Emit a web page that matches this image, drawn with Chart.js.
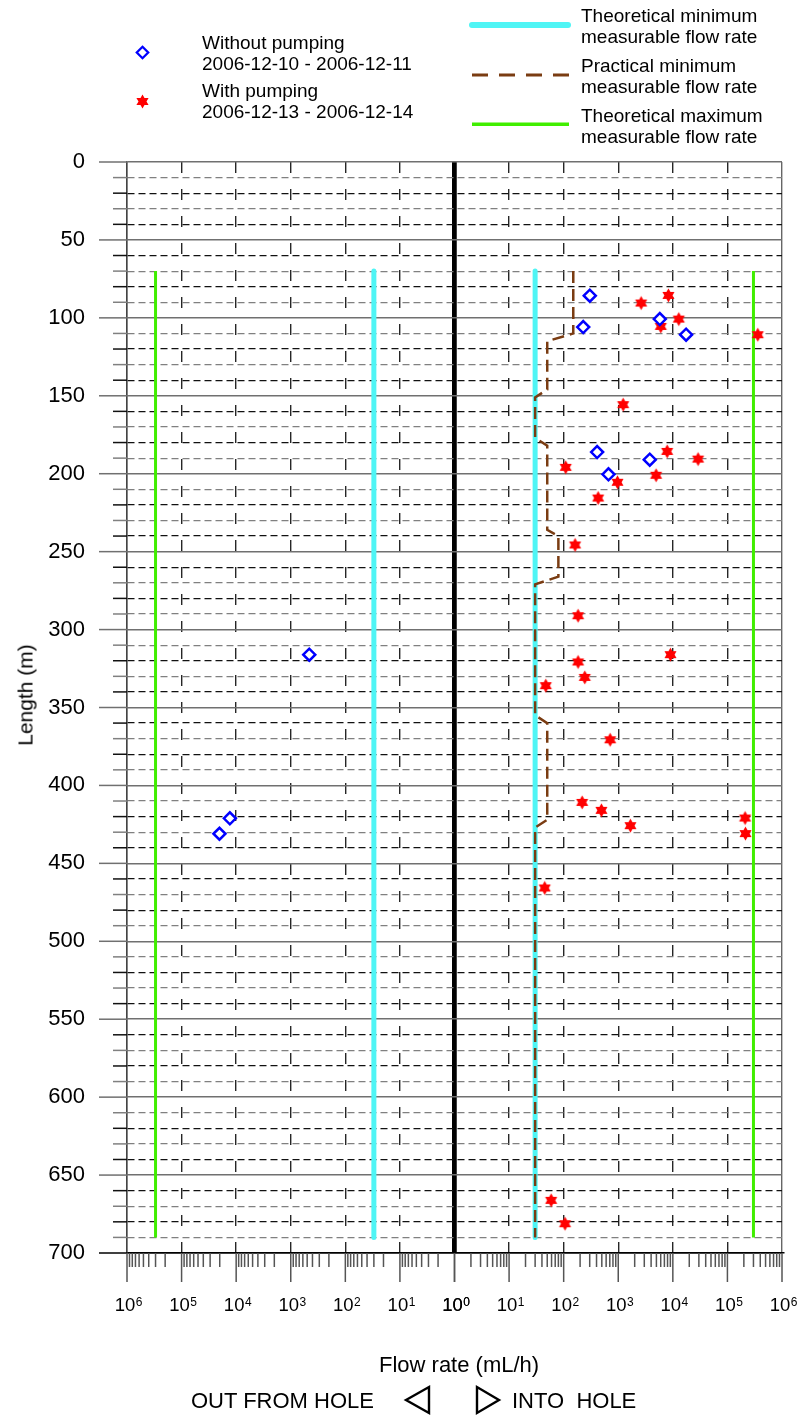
<!DOCTYPE html>
<html>
<head>
<meta charset="utf-8">
<title>Flow rate along the hole</title>
<script src="https://cdn.jsdelivr.net/npm/chart.js@4.4.1/dist/chart.umd.min.js"></script>
<style>
  html, body { margin: 0; padding: 0; background: #fff; }
  #page { position: relative; width: 799px; height: 1416px; overflow: hidden;
          font-family: "Liberation Sans", Arial, sans-serif; color: #000; }
  #chart { position: absolute; left: 0; top: 0; }
  .leg { position: absolute; white-space: pre; font-size: 19px; line-height: 21px; }
  .lbl { position: absolute; white-space: pre; line-height: 1; }
  .mark { position: absolute; overflow: visible; }
  .xt { top: 1295.5px; font-size: 18.5px; transform: translateX(-50%); margin-left: -2px; }
  .xt .ex { position: absolute; left: 100%; top: 0; font-size: 12px; line-height: 1; padding-left: 0.5px; }
</style>
</head>
<body>
<div id="page">
  <canvas id="chart" width="799" height="1416"></canvas>

  <!-- legend: measurements -->
  <svg class="mark" style="left:135px;top:44.5px" width="15" height="15">
    <polygon points="7.5,1.8 13.2,7.5 7.5,13.2 1.8,7.5" fill="#fff" stroke="#0000ff" stroke-width="2.3"/>
  </svg>
  <div class="leg" style="left:202px;top:32px">Without pumping
2006-12-10 - 2006-12-11</div>
  <svg class="mark" style="left:135px;top:93.5px" width="15" height="15">
    <polygon points="7.5,0.5 9.5,4 13.6,4 11.5,7.5 13.6,11 9.5,11 7.5,14.5 5.5,11 1.4,11 3.5,7.5 1.4,4 5.5,4" fill="#ff0000"/>
  </svg>
  <div class="leg" style="left:202px;top:80px">With pumping
2006-12-13 - 2006-12-14</div>

  <!-- legend: limits -->
  <svg class="mark" style="left:468px;top:18px" width="106" height="14">
    <line x1="4" y1="7" x2="100" y2="7" stroke="#4ff5f5" stroke-width="6" stroke-linecap="round"/>
  </svg>
  <div class="leg" style="left:581px;top:4.5px">Theoretical minimum
measurable flow rate</div>
  <svg class="mark" style="left:468px;top:68px" width="106" height="14">
    <line x1="4" y1="7" x2="101" y2="7" stroke="#7a3c12" stroke-width="2.8" stroke-dasharray="16 11"/>
  </svg>
  <div class="leg" style="left:581px;top:54.5px">Practical minimum
measurable flow rate</div>
  <svg class="mark" style="left:468px;top:117px" width="106" height="14">
    <line x1="4" y1="7.3" x2="101" y2="7.3" stroke="#40ee00" stroke-width="3.5"/>
  </svg>
  <div class="leg" style="left:581px;top:104.5px">Theoretical maximum
measurable flow rate</div>

  <!-- axis titles -->
  <div class="lbl" style="left:25px;top:695px;font-size:21px;transform:translate(-50%,-50%) rotate(-90deg)">Length (m)</div>
  <div class="lbl" style="left:379px;top:1354px;font-size:22px">Flow rate (mL/h)</div>
  <div class="lbl" style="left:191px;top:1390px;font-size:22px">OUT FROM HOLE</div>
  <svg class="mark" style="left:400px;top:1382px" width="36" height="36">
    <polygon points="6,18 29,5 29,31" fill="none" stroke="#000" stroke-width="2.4" stroke-linejoin="miter"/>
  </svg>
  <svg class="mark" style="left:470px;top:1382px" width="36" height="36">
    <polygon points="29,18 7,5 7,31" fill="none" stroke="#000" stroke-width="2.4" stroke-linejoin="miter"/>
  </svg>
  <div class="lbl" style="left:512px;top:1390px;font-size:22px">INTO  HOLE</div>
</div>

<script>
// length along hole (m) and flow rate (mL/h)
// without pumping, 2006-12-10 - 2006-12-11
const depthWithoutIn = [85.8, 100.8, 105.9, 110.8, 186.1, 191.0, 200.4];
const flowWithoutIn  = [301, 5770, 228, 17500, 410, 3780, 662];
const depthWithoutOut = [316.1, 421.1, 431.0];
const flowWithoutOut  = [458, 13050, 20230];

// with pumping, 2006-12-13 - 2006-12-14
const depthWithIn = [85.6, 90.5, 100.8, 105.5, 110.8, 155.7, 185.7, 190.6, 195.9, 201.0,
                     205.5, 215.6, 245.7, 291.1, 316.1, 320.8, 330.7, 336.0, 370.7, 410.9,
                     416.0, 420.9, 425.8, 430.9, 465.8, 666.2, 681.2];
const flowWithIn  = [8300, 2625, 12850, 6010, 360000, 1230, 7860, 29000, 109, 4940,
                     967, 428, 162, 184, 9040, 184, 244, 47, 710, 218,
                     492, 211000, 1672, 214000, 45, 59, 106];

// measurement limits
const limitDepth = [70, 690];
const theoreticalMin = 30;
const theoreticalMax = 300000;
const practicalDepth = [70, 110, 115, 146, 151, 177, 182, 236, 240, 266, 271, 355, 360, 422, 427, 690];
const practicalFlow  = [150, 150, 50, 50, 30, 30, 50, 50, 80, 80, 30, 30, 50, 50, 30, 30];

// axes
const depthLabels = [0, 50, 100, 150, 200, 250, 300, 350, 400, 450, 500, 550, 600, 650, 700];
const flowDecades = [1, 10, 100, 1000, 10000, 100000, 1000000];
const decadeExp   = ['0', '1', '2', '3', '4', '5', '6'];
const minorSteps  = [2, 3, 4, 5, 6, 7, 8, 9];

const FONT = '"Liberation Sans", Arial, sans-serif';
const decadeSet = new Set(flowDecades);
const pts = (xs, ys) => xs.map((x, i) => ({ x: x, y: ys[i] }));

// filled six pointed star for the pumping points
function makeStar(r, color) {
  const c = document.createElement('canvas');
  c.width = c.height = 2 * r + 3;
  const g = c.getContext('2d');
  g.translate(c.width / 2, c.height / 2);
  g.fillStyle = color;
  g.beginPath();
  for (let i = 0; i < 12; i++) {
    const a = -Math.PI / 2 + i * Math.PI / 6;
    const rr = i % 2 === 0 ? r : r * 0.58;
    g.lineTo(rr * Math.cos(a), rr * Math.sin(a));
  }
  g.closePath();
  g.fill();
  return c;
}
const star = makeStar(7, '#ff0000');

// grid styling
const tickVal = c => (c && c.tick ? c.tick.value : null);
const xGridColor = c => {
  const v = tickVal(c);
  if (v === 1) return '#000';
  if (v === 1000000) return '#666';
  return decadeSet.has(v) ? '#262626' : 'rgba(0,0,0,0)';
};
const xGridWidth = c => (tickVal(c) === 1 ? 4.5 : 1.4);
const xGridDash = c => {
  const v = tickVal(c);
  return (decadeSet.has(v) && v !== 1 && v !== 1000000) ? [11, 16] : [];
};
const yLineColor = v => {
  if (v === 700) return '#000';
  if (v % 50 === 0) return '#707070';
  return v % 20 === 0 ? '#111' : '#808080';
};
const yGridColor = c => yLineColor(tickVal(c) || 0);
const yGridWidth = c => ((tickVal(c) || 0) % 50 === 0 ? 1.5 : 1.2);
const yGridDash = c => {
  const v = tickVal(c);
  return (v !== null && v % 50 !== 0) ? [7, 4] : [];
};

// tick marks outside the plot frame
const outerTicks = {
  id: 'outerTicks',
  afterDraw(chart) {
    const { ctx, chartArea: area, scales } = chart;
    const seg = (x1, y1, x2, y2) => { ctx.beginPath(); ctx.moveTo(x1, y1); ctx.lineTo(x2, y2); ctx.stroke(); };
    ctx.save();
    ctx.lineWidth = 1.5;
    scales.y.ticks.forEach(t => {
      const py = scales.y.getPixelForValue(t.value);
      const major = t.value % 50 === 0;
      ctx.strokeStyle = yLineColor(t.value);
      seg(area.left - (major ? 28 : 14), py, area.left, py);
    });
    ctx.strokeStyle = '#555';
    ['xOut', 'xIn'].forEach(id => {
      const sc = scales[id];
      flowDecades.forEach((d, i) => {
        const px = sc.getPixelForValue(d);
        seg(px, area.bottom, px, area.bottom + 29);
        if (i < flowDecades.length - 1) {
          minorSteps.forEach(m => {
            const pm = sc.getPixelForValue(d * m);
            seg(pm, area.bottom, pm, area.bottom + 14);
          });
        }
      });
    });
    ctx.restore();
  }
};

const flowAxis = reverse => ({
  type: 'logarithmic', axis: 'x', position: 'bottom',
  stack: 'flow', stackWeight: 1,
  reverse: reverse, min: 1, max: 1000000,
  ticks: { display: false, autoSkip: false },
  grid: { color: xGridColor, lineWidth: xGridWidth, drawTicks: false },
  border: { display: true, color: '#000', width: 1.5, dash: xGridDash },
  afterFit: s => { s.height = 60; }
});

const diamond = {
  pointStyle: 'rectRot', pointRadius: 6, borderWidth: 2.5, pointBorderWidth: 2.5,
  borderColor: '#0000ff', pointBorderColor: '#0000ff', backgroundColor: '#fff', pointBackgroundColor: '#fff'
};

const chart = new Chart(document.getElementById('chart'), {
  type: 'scatter',
  data: {
    datasets: [
      Object.assign({ label: 'Without pumping', xAxisID: 'xIn', data: pts(flowWithoutIn, depthWithoutIn) }, diamond),
      Object.assign({ label: 'Without pumping (out)', xAxisID: 'xOut', data: pts(flowWithoutOut, depthWithoutOut) }, diamond),
      { label: 'With pumping', xAxisID: 'xIn', data: pts(flowWithIn, depthWithIn),
        pointStyle: star, pointRadius: 7 },
      { label: 'Practical minimum measurable flow rate', xAxisID: 'xIn',
        data: pts(practicalFlow, practicalDepth), showLine: true, pointRadius: 0,
        borderColor: '#7a3c12', borderWidth: 2.5, borderDash: [12, 6] },
      { label: 'Theoretical minimum measurable flow rate', xAxisID: 'xIn',
        data: pts([theoreticalMin, theoreticalMin], limitDepth), showLine: true, pointRadius: 0,
        borderColor: '#4ff5f5', borderWidth: 5, borderCapStyle: 'round' },
      { label: 'Theoretical minimum (out)', xAxisID: 'xOut',
        data: pts([theoreticalMin, theoreticalMin], limitDepth), showLine: true, pointRadius: 0,
        borderColor: '#4ff5f5', borderWidth: 5, borderCapStyle: 'round' },
      { label: 'Theoretical maximum measurable flow rate', xAxisID: 'xIn',
        data: pts([theoreticalMax, theoreticalMax], limitDepth), showLine: true, pointRadius: 0,
        borderColor: '#40ee00', borderWidth: 3 },
      { label: 'Theoretical maximum (out)', xAxisID: 'xOut',
        data: pts([theoreticalMax, theoreticalMax], limitDepth), showLine: true, pointRadius: 0,
        borderColor: '#40ee00', borderWidth: 3 }
    ]
  },
  options: {
    responsive: false,
    animation: false,
    layout: { padding: { top: 162, left: 27, right: 17, bottom: 103 } },
    plugins: { legend: { display: false }, tooltip: { enabled: false } },
    scales: {
      xOut: flowAxis(true),
      xIn: flowAxis(false),
      y: {
        type: 'linear', position: 'left', reverse: true, min: 0, max: 700,
        ticks: {
          stepSize: 10, autoSkip: false, padding: 42, color: '#000',
          font: { family: FONT, size: 22 },
          callback: v => (depthLabels.includes(v) ? String(v) : '')
        },
        grid: { color: yGridColor, lineWidth: yGridWidth, drawTicks: false },
        border: { display: true, color: '#444', width: 1.5, dash: yGridDash },
        afterFit: s => { s.width = 100; }
      }
    }
  },
  plugins: [outerTicks]
});

// decade labels 10^n under both halves of the flow axis
const page = document.getElementById('page');
['xOut', 'xIn'].forEach(id => {
  const sc = chart.scales[id];
  flowDecades.forEach((v, i) => {
    const el = document.createElement('div');
    el.className = 'lbl xt';
    el.style.left = sc.getPixelForValue(v) + 'px';
    el.innerHTML = '10<span class="ex">' + decadeExp[i] + '</span>';
    page.appendChild(el);
  });
});
</script>
</body>
</html>
